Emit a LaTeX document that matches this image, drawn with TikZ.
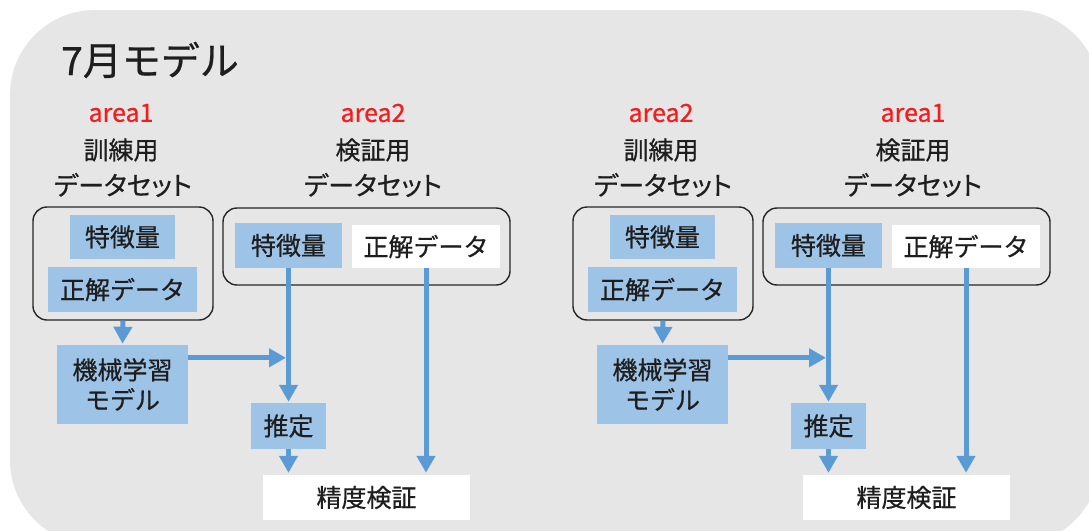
\documentclass[tikz,border=0pt]{standalone}
\usepackage{fontspec}
\setmainfont{Noto Sans CJK JP}[FakeBold=0.6]
\newfontfamily\propjp{Noto Sans CJK JP}[FakeBold=0.6,RawFeature=+palt]
\usetikzlibrary{arrows.meta,calc}
\definecolor{bg}{HTML}{E7E6E6}
\definecolor{bfill}{HTML}{9DC3E6}
\definecolor{arrblue}{HTML}{5B9BD5}
\definecolor{areared}{HTML}{F01E1E}
\definecolor{ink}{HTML}{1E1E1E}
\begin{document}
\begin{tikzpicture}[x=1pt,y=-1pt,
  blk/.style={fill=bfill, text=ink, inner sep=0pt, font=\fontsize{25}{30}\selectfont, align=center},
  wht/.style={blk, fill=white},
  grp/.style={draw=black!85, line width=1.4pt, rounded corners=14pt, inner sep=0pt},
  lbl/.style={text=ink, inner sep=0pt, font=\fontsize{25}{30}\selectfont},
  setlbl/.style={lbl, font=\propjp\fontsize{26}{30}\selectfont},
  arealbl/.style={text=areared, inner sep=0pt, font=\fontsize{25}{28}\selectfont},
  arr/.style={draw=arrblue, line width=5pt, -{Triangle[length=17pt,width=18pt]}},
]
\useasboundingbox (0,0) rectangle (1089,530);
\fill[white] (0,0) rectangle (1089,530);
\begin{scope}
\clip (0,0) rectangle (1089,530);
\fill[bg, rounded corners=85pt] (10,10) rectangle (1100,545);
\end{scope}
\node[lbl, font=\fontsize{39}{42}\selectfont, anchor=west] (title) at (61,60) {7月モデル};
\foreach \o/\p/\ta/\tb in {0/L/area1/area2, 540/R/area2/area1}{
\begin{scope}[xshift=\o]
\node[arealbl] (a1\p) at (121,113) {\ta};
\node[lbl] (t1\p) at (121,150) {訓練用};
\node[setlbl] (d1\p) at (123,185) {データセット};
\node[arealbl] (a2\p) at (373,113) {\tb};
\node[lbl] (t2\p) at (373,150) {検証用};
\node[setlbl] (d2\p) at (373,185) {データセット};
\node[grp, minimum width=180, minimum height=113] (G1\p) at (123,263.5) {};
\node[grp, minimum width=287, minimum height=77] (G2\p) at (366.5,246.5) {};
\node[blk, minimum width=105, minimum height=44] (F1\p) at (122.5,237) {特徴量};
\node[blk, minimum width=149, minimum height=45] (C1\p) at (122.5,289.5) {正解データ};
\node[blk, minimum width=107, minimum height=45] (F2\p) at (288.5,245.5) {特徴量};
\node[wht, minimum width=148, minimum height=43] (C2\p) at (426,246.5) {正解データ};
\node[blk, minimum width=131, minimum height=79] (ML\p) at (122.5,384.5) {機械学習\\モデル};
\node[blk, minimum width=75, minimum height=46] (E\p) at (288.5,426) {推定};
\node[wht, minimum width=207, minimum height=45] (V\p) at (366.5,497.5) {精度検証};
\draw[arr, shorten >=1pt] (G1\p.south) -- (ML\p.north);
\coordinate (J\p) at ($(ML\p.north east)+(0,13)$);
\draw[arr, shorten >=2.5pt] (J\p) -- (J\p -| F2\p.south);
\draw[arr, shorten >=1pt] (F2\p.south) -- (E\p.north);
\draw[arr, shorten >=2pt] (E\p.south) -- (E\p.south |- V\p.north);
\draw[arr, shorten >=2pt] (C2\p.south) -- (C2\p.south |- V\p.north);
\end{scope}
}
\end{tikzpicture}
\end{document}
